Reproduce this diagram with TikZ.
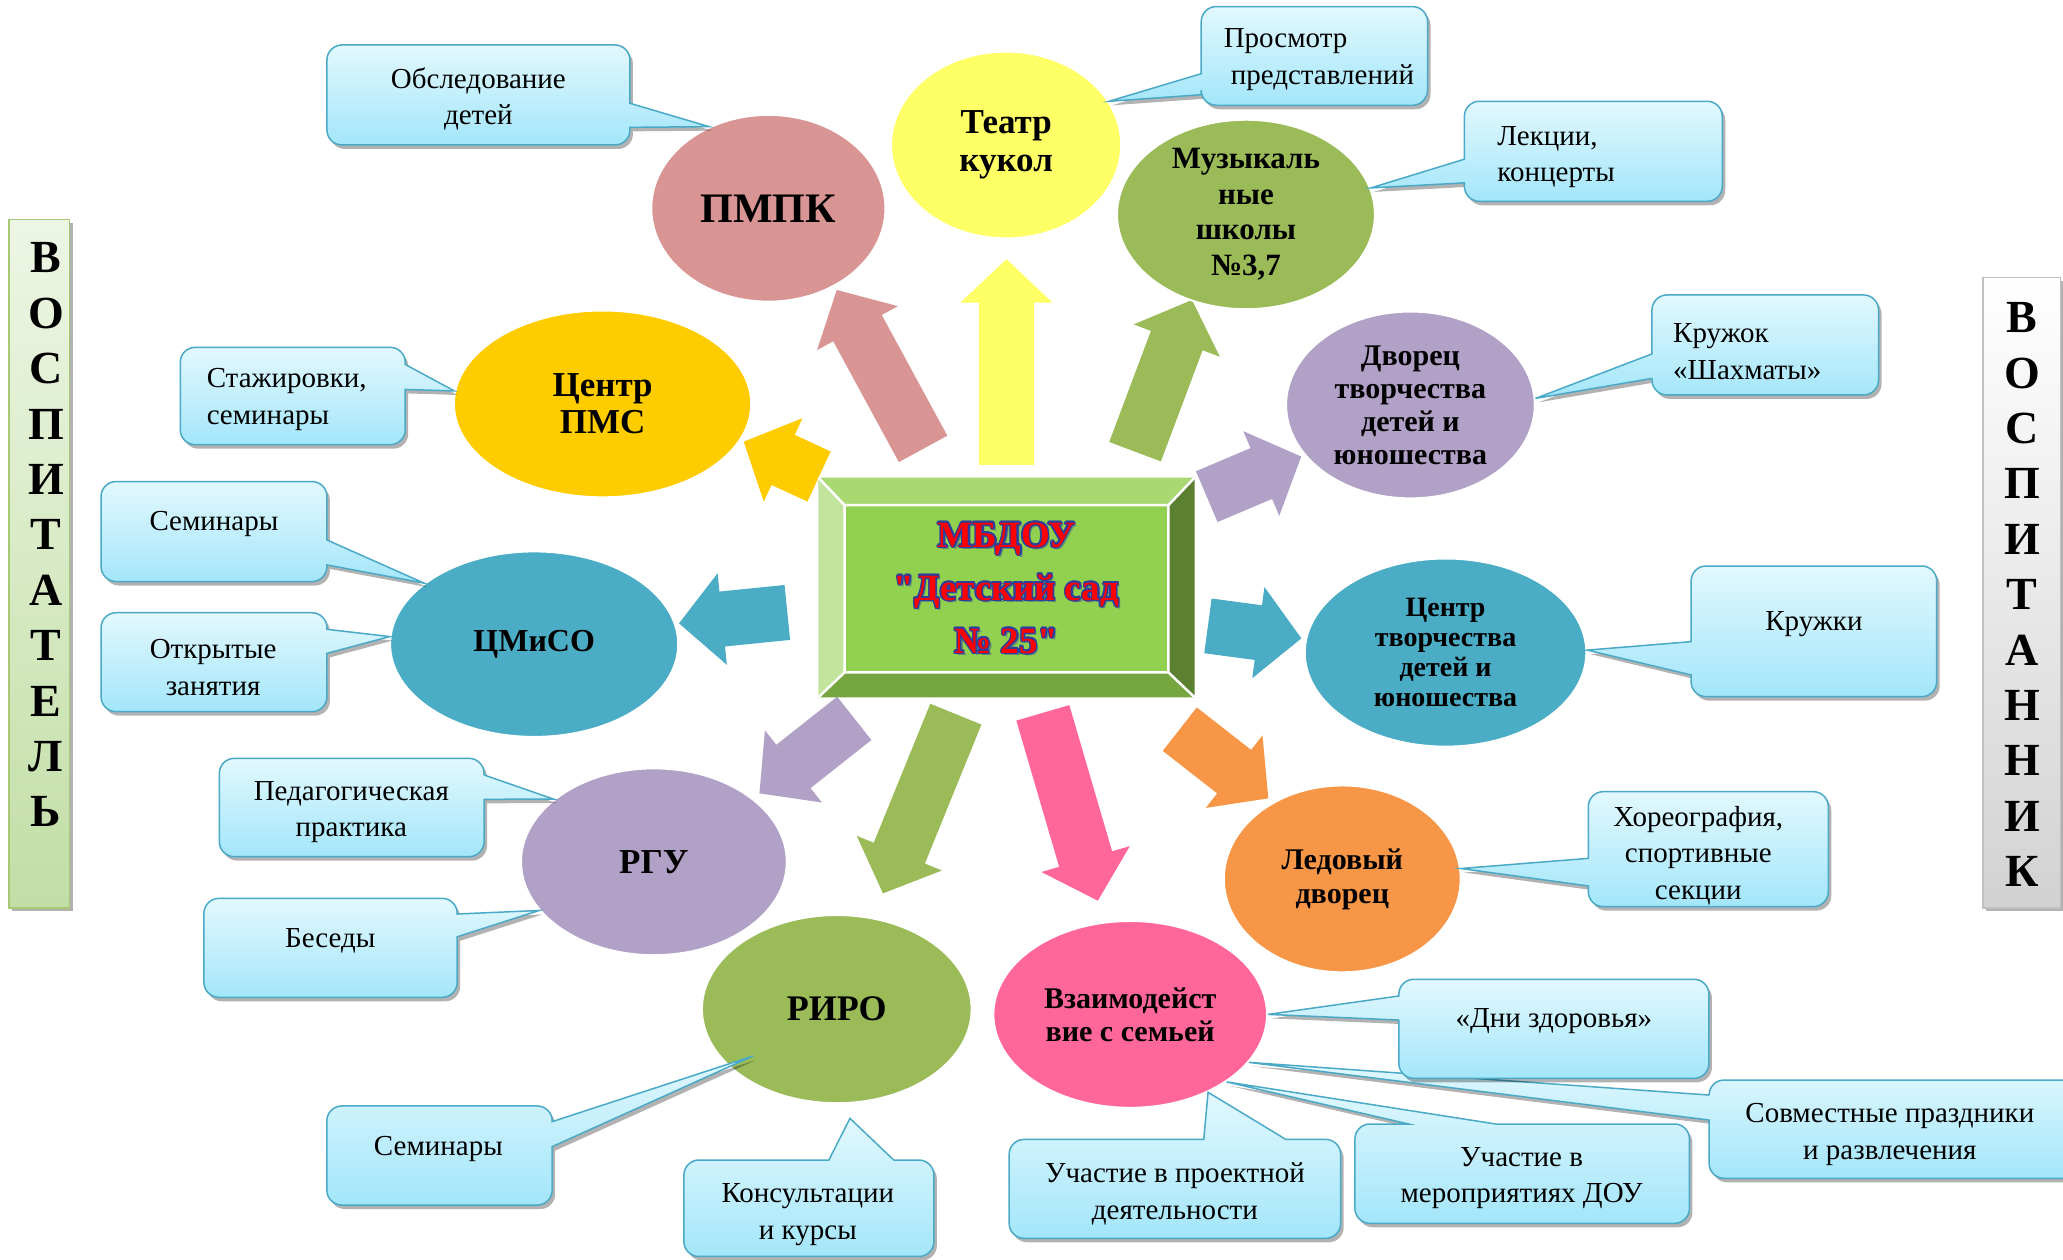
\documentclass[tikz,border=0pt]{standalone}
\usepackage{fontspec}
\setmainfont{Liberation Serif}
\newfontfamily\mbfont{Liberation Serif}[Ligatures=TeXOff]
\usetikzlibrary{shapes.geometric,calc,shadows}
\definecolor{cpmpk}{HTML}{D99594}
\definecolor{cyel}{HTML}{FFFF66}
\definecolor{colive}{HTML}{9BBB59}
\definecolor{cgold}{HTML}{FFCC00}
\definecolor{clav}{HTML}{B2A1C7}
\definecolor{cteal}{HTML}{4BACC6}
\definecolor{corange}{HTML}{F79646}
\definecolor{chot}{HTML}{FF6699}
\definecolor{cbord}{HTML}{4AA9C6}
\definecolor{cbtop}{HTML}{E2F8FE}
\definecolor{cbbot}{HTML}{A3E6FA}
\definecolor{mbblue}{HTML}{2B3F9E}
\definecolor{btop}{HTML}{A9D873}
\definecolor{bleft}{HTML}{C2E49D}
\definecolor{bright}{HTML}{5C8032}
\definecolor{bbot}{HTML}{76A63F}
\definecolor{bface}{HTML}{92D050}
\definecolor{gbtop}{HTML}{EDF6E4}
\definecolor{gbbot}{HTML}{C2DEA6}
\definecolor{gbord}{HTML}{A8C874}
\definecolor{sbtop}{HTML}{FFFFFF}
\definecolor{sbbot}{HTML}{D2D2D2}
\definecolor{sbord}{HTML}{C0C0C0}
\newcommand\fsz[2]{\fontsize{#1pt}{#2pt}\selectfont}
\def\uu{1.3157pt}
\def\rc{15pt}
% block arrow: colour, start, tip
\newcommand\blockarrow[3]{%
  \coordinate (hb) at ($(#3)!43.4pt!(#2)$);
  \fill[#1] ($(#2)!27.6pt!90:(#3)$) -- ($(hb)!27.6pt!90:(#3)$) -- ($(hb)!46pt!90:(#3)$) -- (#3)
    -- ($(hb)!46pt!-90:(#3)$) -- ($(hb)!27.6pt!-90:(#3)$) -- ($(#2)!27.6pt!-90:(#3)$) -- cycle;}
% callout with pointer on the right side: x1,y1,x2,y2, base y a, base y b, tip
\newcommand\callR[7]{%
  \path[callout] ({(#1+#3)/2},#2) [rounded corners=\rc] -- (#3,#2) [sharp corners] -- (#3,#5) -- (#7)
    -- (#3,#6) [rounded corners=\rc] -- (#3,#4) -- (#1,#4) -- (#1,#2) -- cycle;}
% pointer on the left side
\newcommand\callL[7]{%
  \path[callout] ({(#1+#3)/2},#2) [rounded corners=\rc] -- (#3,#2) -- (#3,#4) -- (#1,#4) [sharp corners]
    -- (#1,#6) -- (#7) -- (#1,#5) [rounded corners=\rc] -- (#1,#2) -- cycle;}
% pointer on the top side: base x a, base x b
\newcommand\callT[7]{%
  \path[callout] (#1,{(#2+#4)/2}) [rounded corners=\rc] -- (#1,#2) [sharp corners] -- (#5,#2) -- (#7)
    -- (#6,#2) [rounded corners=\rc] -- (#3,#2) -- (#3,#4) -- (#1,#4) -- cycle;}
\newcommand\mbtext{МБДОУ\\"Детский сад\\№ 25"}
\begin{document}
\begin{tikzpicture}[x=1.3157pt, y=-1.3157pt,
  ell/.style={ellipse, inner sep=0pt, draw=white, line width=2pt, align=center, font=\bfseries\fsz{30}{33}},
  callout/.style={draw=cbord, line width=1.5pt, top color=cbtop, bottom color=cbbot,
    drop shadow={shadow xshift=3pt, shadow yshift=-4pt, opacity=.3, fill=black}},
  ctext/.style={font=\fsz{29}{36.5}, align=center, inner sep=0pt, yshift=-3pt},
  mbt/.style={font=\mbfont\bfseries\fsz{37}{53}, align=center, inner sep=0pt},
  sidetext/.style={font=\bfseries\fsz{46}{55.4}, align=center, inner sep=0pt}]
\useasboundingbox (0,0) rectangle (1568,957);
\fill[white] (0,0) rectangle (1568,957);

% side bars
\path[draw=gbord, line width=1.5pt, top color=gbtop, bottom color=gbbot,
  drop shadow={shadow xshift=3pt, shadow yshift=-3pt, opacity=.3, fill=black}] (7,167) rectangle (53,690);
\node[sidetext] (vospitatel) at (35,406.5) {В\\О\\С\\П\\И\\Т\\А\\Т\\Е\\Л\\Ь};
\path[draw=sbord, line width=1.5pt, top color=sbtop, bottom color=sbbot,
  drop shadow={shadow xshift=3pt, shadow yshift=-3pt, opacity=.3, fill=black}] (1507,211) rectangle (1566,690);
\node[sidetext] (vospitannik) at (1537,452) {В\\О\\С\\П\\И\\Т\\А\\Н\\Н\\И\\К};

% arrows
\coordinate (a1s) at (701.6,341.2); \coordinate (a1e) at (636,220.4);
\coordinate (a2s) at (765,353.4);   \coordinate (a2e) at (765,197);
\coordinate (a3s) at (862.7,343.3); \coordinate (a3e) at (906,228);
\coordinate (a4s) at (622.5,362.2); \coordinate (a4e) at (565.3,335.7);
\coordinate (a5s) at (917.2,377.5); \coordinate (a5e) at (989,347);
\coordinate (a6s) at (918.1,475.7); \coordinate (a6e) at (989.1,485.2);
\coordinate (a7s) at (598.4,465.5); \coordinate (a7e) at (516.1,473.8);
\coordinate (a8s) at (649.3,546);   \coordinate (a8e) at (577.2,603);
\coordinate (a9s) at (726.5,542.8); \coordinate (a9e) at (671.1,679);
\coordinate (a10s) at (792.6,541.8); \coordinate (a10e) at (834.4,684.6);
\coordinate (a11s) at (896.7,554.2); \coordinate (a11e) at (964,606.8);
\blockarrow{cpmpk}{a1s}{a1e}
\blockarrow{cyel}{a2s}{a2e}
\blockarrow{colive}{a3s}{a3e}
\blockarrow{cgold}{a4s}{a4e}
\blockarrow{clav}{a5s}{a5e}
\blockarrow{cteal}{a6s}{a6e}
\blockarrow{cteal}{a7s}{a7e}
\blockarrow{clav}{a8s}{a8e}
\blockarrow{colive}{a9s}{a9e}
\blockarrow{chot}{a10s}{a10e}
\blockarrow{corange}{a11s}{a11e}

% central bevelled box
\fill[btop] (622,363) -- (908,363) -- (888,384) -- (642,384) -- cycle;
\fill[bleft] (622,363) -- (642,384) -- (642,511) -- (622,530) -- cycle;
\fill[bright] (908,363) -- (908,530) -- (888,511) -- (888,384) -- cycle;
\fill[bbot] (622,530) -- (908,530) -- (888,511) -- (642,511) -- cycle;
\fill[bface] (642,384) rectangle (888,511);
\draw[white, line width=2.5pt] (642,384) rectangle (888,511)
  (622,363) -- (642,384) (908,363) -- (888,384) (622,530) -- (642,511) (908,530) -- (888,511);
\coordinate (ctr) at (765,447);
\node[mbt, text=mbblue, opacity=.45] at ($(ctr)+(2.5pt,-2.5pt)$) {\mbtext};
\foreach \a in {0,30,...,330} \node[mbt, text=mbblue] at ($(ctr)+(\a:1.4pt)$) {\mbtext};
\node[mbt, text=red] (mbdou) at (ctr) {\mbtext};

% ellipses
\node[ell, fill=cpmpk, minimum width=178*\uu, minimum height=142*\uu, font=\bfseries\fsz{42}{44}] (pmpk) at (584,158.3) {ПМПК};
\node[ell, fill=cyel, minimum width=175*\uu, minimum height=142*\uu, font=\bfseries\fsz{35}{38}] (teatr) at (764.7,110.2) {Театр\\кукол};
\node[ell, fill=colive, minimum width=196*\uu, minimum height=144*\uu, font=\bfseries\fsz{31}{35.5}] (muz) at (947,163) {Музыкаль\\ные\\школы\\№3,7};
\node[ell, fill=cgold, minimum width=226*\uu, minimum height=142*\uu, font=\bfseries\fsz{35}{37}] (pms) at (458,307) {Центр\\ПМС};
\node[ell, fill=clav, minimum width=189*\uu, minimum height=142*\uu, font=\bfseries\fsz{30}{33}] (dvor) at (1072,307.8) {Дворец\\творчества\\детей и\\юношества};
\node[ell, fill=cteal, minimum width=219*\uu, minimum height=141*\uu, font=\bfseries\fsz{32}{34}] (cmiso) at (406,489.6) {ЦМиСО};
\node[ell, fill=cteal, minimum width=214*\uu, minimum height=143*\uu, font=\bfseries\fsz{28}{30}] (ctdu) at (1098.7,496) {Центр\\творчества\\детей и\\юношества};
\node[ell, fill=clav, minimum width=202*\uu, minimum height=142*\uu, font=\bfseries\fsz{35}{37}] (rgu) at (497,655) {РГУ};
\node[ell, fill=corange, minimum width=180*\uu, minimum height=142*\uu, font=\bfseries\fsz{30}{34}] (led) at (1020.2,668) {Ледовый\\дворец};
\node[ell, fill=colive, minimum width=205*\uu, minimum height=143*\uu, font=\bfseries\fsz{36}{38}] (riro) at (636,767) {РИРО};
\node[ell, fill=chot, minimum width=208*\uu, minimum height=142*\uu, font=\bfseries\fsz{30}{33}] (vz) at (859,771) {Взаимодейст\\вие с семьей};

% callouts
\coordinate (t12) at (572.4,802.6);
\coordinate (t13) at (646,850);
\callR{248.5}{34.2}{478.8}{110.2}{78.5}{96.8}{pmpk.126}
\callL{913}{5}{1085}{80}{56}{72}{teatr.23}
\callL{1113}{77}{1309}{153}{121}{139}{muz.12}
\callR{137}{264}{308}{338}{277}{296}{pms.175}
\callL{1255.6}{224.2}{1427.8}{300.2}{269}{287.6}{dvor.3}
\callR{76.8}{366}{248.5}{442}{410.4}{429.4}{cmiso.151}
\callR{76.8}{465.7}{248.5}{540.9}{478.3}{496.6}{cmiso.177}
\callL{1285.3}{430.2}{1472}{529.5}{487.7}{513}{ctdu.1}
\callR{166.7}{576.4}{367.9}{651.1}{589}{607.5}{rgu.148}
\callR{155}{682.8}{347.5}{758}{694.7}{712}{rgu.203}
\callL{1207.2}{601.7}{1389.6}{689.1}{652.4}{673.4}{led.5}
\callR{248.4}{840.6}{419.7}{915.9}{852.5}{871.5}{t12}
\callT{519.8}{881.7}{709.8}{955}{630}{679.3}{t13}
\callL{1299}{820.9}{1580}{895.6}{832.3}{851.3}{vz.-22}
\callT{1029.8}{854.3}{1284.1}{929.8}{1070.5}{1136.8}{vz.-35}
\callT{767}{866}{1019}{941.2}{914.9}{977.3}{vz.-45}
\callL{1063.2}{744.3}{1298.9}{819.6}{757}{775.3}{vz.0}

\node[ctext] (obslT) at (363.6,73) {Обследование\\детей};
\node[ctext, align=left, anchor=west] (prosmT) at (930,43) {Просмотр\\\hspace*{7pt}представлений};
\node[ctext, align=left, anchor=west] (lekcT) at (1138,117) {Лекции,\\концерты};
\node[ctext, align=left, anchor=west] (stazhT) at (157,301.5) {Стажировки,\\семинары};
\node[ctext, align=left, anchor=west] (kruzhokT) at (1271.6,265) {Кружок\\«Шахматы»};
\node[ctext] (sem1T) at (162.6,396) {Семинары};
\node[ctext] (otkrT) at (162,505) {Открытые\\занятия};
\node[ctext] (kruzhkiT) at (1378.7,472) {Кружки};
\node[ctext] (pedT) at (267,615) {Педагогическая\\практика};
\node[ctext] (besedyT) at (251,713) {Беседы};
\node[ctext] (horeoT) at (1290.8,648) {Хореография,\\спортивные\\секции};
\node[ctext] (sem2T) at (333.2,871) {Семинары};
\node[ctext] (konsT) at (614,921) {Консультации\\и курсы};
\node[ctext] (dniT) at (1181,774) {«Дни здоровья»};
\node[ctext] (sovmT) at (1436.4,860) {Совместные праздники\\и развлечения};
\node[ctext] (merT) at (1156.5,893) {Участие в\\мероприятиях ДОУ};
\node[ctext] (proektT) at (893,905) {Участие в проектной\\деятельности};
\end{tikzpicture}
\end{document}
